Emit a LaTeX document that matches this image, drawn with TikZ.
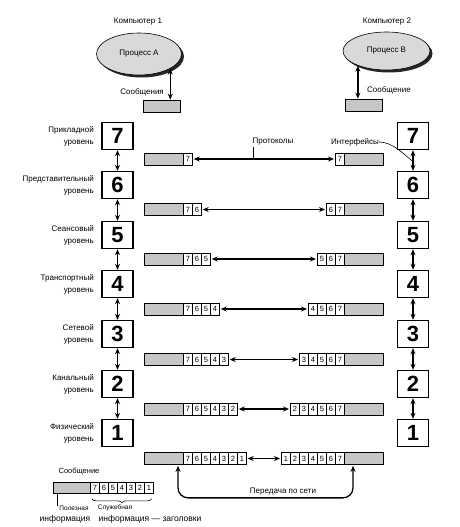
\documentclass[tikz,border=0pt]{standalone}
\usepackage{fontspec}
\setmainfont{Liberation Sans}
\usetikzlibrary{arrows.meta,shapes.geometric,decorations.pathreplacing,calc}
\begin{document}
\begin{tikzpicture}[x=1pt,y=-1pt,
  lbox/.style={draw,line width=1.4pt,minimum width=31pt,minimum height=27pt,inner sep=0pt,font=\fontsize{22}{22}\selectfont\bfseries},
  lbl/.style={align=right,anchor=east,inner sep=0pt,font=\fontsize{8}{12}\selectfont},
  txt/.style={inner sep=0pt,font=\fontsize{8}{9}\selectfont},
  datab/.style={draw,line width=0.7pt,fill=gray!45,minimum width=39pt,minimum height=12pt,inner sep=0pt,anchor=west},
  cell/.style={draw,line width=0.7pt,fill=white,minimum width=9pt,minimum height=12pt,inner sep=0pt,anchor=west,font=\fontsize{7.5}{7.5}\selectfont},
  darr/.style={{Stealth[length=6pt,width=5pt]}-{Stealth[length=6pt,width=5pt]},line width=1.3pt},
  proc/.style={ellipse,draw,line width=0.6pt,fill=gray!30,inner sep=0pt,font=\fontsize{8}{9}\selectfont},
  shad/.style={ellipse,fill=black!85,inner sep=0pt},
  msg/.style={draw,line width=0.7pt,fill=gray!45,minimum width=37pt,minimum height=12pt,inner sep=0pt}
]
\useasboundingbox (0,0) rectangle (459,527);

% Computers and processes
\node[txt] (c1) at (138,22) {Компьютер 1};
\node[txt] (c2) at (387,22) {Компьютер 2};
\node[shad,minimum width=85pt,minimum height=42pt] (shA) at (141.5,56.5) {};
\node[proc,minimum width=85pt,minimum height=42pt] (pa) at (139,54) {Процесс А};
\node[shad,minimum width=87pt,minimum height=38pt] (shB) at (389,53.5) {};
\node[proc,minimum width=87pt,minimum height=38pt] (pb) at (386.5,51) {Процесс В};

\node[msg] (mA) at (161.5,106) {};
\node[msg] (mB) at (363.5,105) {};
\draw[darr] (pa.-25) -- (pa.-25 |- mA.north);
\draw[darr] (pb.-153) -- (pb.-153 |- mB.north);
\node[txt,anchor=east] (sA) at (164,92) {Сообщения};
\node[txt,anchor=west] (sB) at (367,90) {Сообщение};

% Layer boxes
\foreach \n/\yy in {7/136,6/185,5/235,4/284,3/334,2/384,1/433}{
  \node[lbox] (L\n) at (117.5,\yy) {\n};
  \node[lbox] (R\n) at (413,\yy) {\n};
}
\foreach \a/\b in {7/6,6/5,5/4,4/3,3/2,2/1}{
  \draw[darr] (L\a.south) -- (L\b.north);
  \draw[darr] (R\a.south) -- (R\b.north);
}

% Layer labels
\node[lbl] (t7) at (94,136) {Прикладной\\уровень};
\node[lbl] (t6) at (94,185) {Представительный\\уровень};
\node[lbl] (t5) at (94,235) {Сеансовый\\уровень};
\node[lbl] (t4) at (94,284) {Транспортный\\уровень};
\node[lbl] (t3) at (94,334) {Сетевой\\уровень};
\node[lbl] (t2) at (94,384) {Канальный\\уровень};
\node[lbl] (t1) at (94,433) {Физический\\уровень};

% Frames
\foreach \r/\yy in {7/159,6/209.5,5/259,4/309,3/359.5,2/409,1/458.5}{
  \node[datab] (Ld\r) at (144,\yy) {};
  \node[datab] (Rd\r) at (344,\yy) {};
  \foreach \d in {7,...,\r}{
    \pgfmathsetmacro\xl{183+9*(7-\d)}
    \pgfmathsetmacro\xr{272+9*\d}
    \node[cell] (Lc\r\d) at (\xl,\yy) {\d};
    \node[cell] (Rc\r\d) at (\xr,\yy) {\d};
  }
  \draw[darr,shorten <=1pt,shorten >=1pt] (Lc\r\r.east) -- (Rc\r\r.west);
}

% Protocols / interfaces
\node[txt] (prot) at (273,142) {Протоколы};
\coordinate (pt) at ($(prot.south)+(-20,1)$);
\draw[line width=0.7pt] (pt) -- (pt |- Lc77.center);
\node[txt] (intf) at (355,142) {Интерфейсы};
\coordinate (i76) at ($(R7.south)!0.55!(R6.north)$);
\draw[line width=0.6pt] (intf.east) .. controls +(14,0) and +(-8,-6) .. (i76);

% Transmission over network
\coordinate (lb) at ($(Ld1.south west)+(34,1)$);
\coordinate (rb) at ($(Rd1.south west)+(9,1)$);
\draw[darr,rounded corners=10pt] (lb) -- ++(0,32) -| (rb);
\node[txt,anchor=south] (net) at (283,495) {Передача по сети};

% Legend
\node[txt,font=\fontsize{7.5}{8}\selectfont] (leg) at (79,471) {Сообщение};
\node[datab,minimum width=37pt,minimum height=11pt] (Md) at (53,488) {};
\foreach \d in {7,...,1}{
  \pgfmathsetmacro\xm{90+9*(7-\d)}
  \node[cell,minimum height=11pt] (Mc\d) at (\xm,488) {\d};
}
\draw[line width=0.6pt,decorate,decoration={brace,mirror,amplitude=4pt}]
  ($(Mc7.south west)+(2,5)$) -- ($(Mc1.south east)+(-2,5)$);
\coordinate (mt) at ($(Md.south west)+(4,0)$);
\draw[line width=0.6pt] (mt) -- ++(0,12);
\node[txt,font=\fontsize{6.5}{7}\selectfont] (use1) at (74,508) {Полезная};
\node[txt,font=\fontsize{8.5}{9}\selectfont] (use2) at (65,519) {информация};
\node[txt,font=\fontsize{6.5}{7}\selectfont] (srv1) at (115,508) {Служебная};
\node[txt,font=\fontsize{8.5}{9}\selectfont] (srv2) at (150,519) {информация — заголовки};
\end{tikzpicture}
\end{document}
